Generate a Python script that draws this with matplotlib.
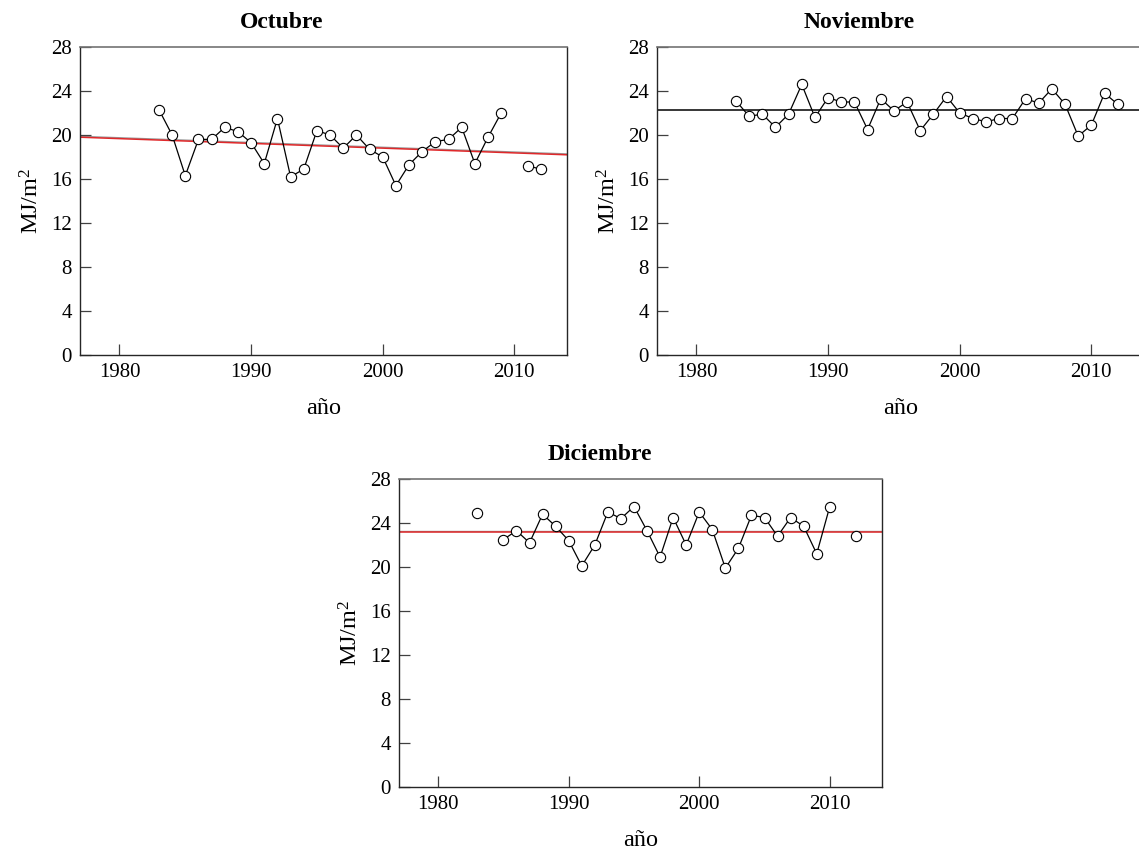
import matplotlib
matplotlib.use('Agg')
import matplotlib.pyplot as plt
import numpy as np

plt.rcParams['font.family'] = ['Liberation Serif', 'DejaVu Serif']
plt.rcParams['mathtext.fontset'] = 'custom'
plt.rcParams['mathtext.rm'] = 'Liberation Serif'
plt.rcParams['mathtext.it'] = 'Liberation Serif:italic'

nan = np.nan
years = list(range(1983, 2013))

# monthly mean irradiation, MJ/m2 (NaN = missing year)
octubre = [22.3, 20.0, 16.3, 19.6, 19.6, 20.7, 20.3, 19.3, 17.4, 21.5,
           16.2, 16.9, 20.4, 20.0, 18.8, 20.0, 18.7, 18.0, 15.4, 17.3,
           18.5, 19.4, 19.6, 20.7, 17.4, 19.8, 22.0, nan, 17.2, 16.9]
noviembre = [23.1, 21.7, 21.9, 20.7, 21.9, 24.6, 21.6, 23.4, 23.0, 23.0,
             20.5, 23.3, 22.2, 23.0, 20.4, 21.9, 23.5, 22.0, 21.5, 21.2,
             21.5, 21.5, 23.3, 22.9, 24.2, 22.8, 19.9, 20.9, 23.8, 22.8]
diciembre = [24.9, nan, 22.5, 23.3, 22.2, 24.8, 23.7, 22.4, 20.1, 22.0,
             25.0, 24.4, 25.5, 23.3, 20.9, 24.5, 22.0, 25.0, 23.4, 19.9,
             21.7, 24.7, 24.5, 22.8, 24.5, 23.7, 21.2, 25.5, nan, 22.8]

# fitted trend lines, evaluated at both ends of the year axis
fit_years = [1977, 2014]
oct_fit = [19.8, 18.2]
oct_fit_prev = [19.88, 18.28]
nov_fit = [22.25, 22.25]
dic_fit = [23.2, 23.2]
dic_fit_prev = [23.28, 23.28]

year_ticks = [1980, 1990, 2000, 2010]
y_ticks = [0, 4, 8, 12, 16, 20, 24, 28]

W, H = 1139, 849
fig = plt.figure(figsize=(W / 100, H / 100), dpi=100)


def panel(left_px, top_px, width_px, title, values, fit, fit_color, fit_prev=None):
    ax = fig.add_axes([left_px / W, 1 - (top_px + 308) / H, width_px / W, 308 / H])
    if fit_prev is not None:
        ax.plot(fit_years, fit_prev, color='0.6', lw=1.0, zorder=1)
    ax.plot(fit_years, fit, color=fit_color, lw=1.1, zorder=2)
    ax.plot(years, values, color='black', lw=0.9, marker='o', ms=7.4,
            mfc='white', mec='black', mew=0.8, zorder=3)
    ax.set_xlim(1977, 2014)
    ax.set_ylim(0, 28)
    ax.set_xticks(year_ticks)
    ax.set_yticks(y_ticks)
    ax.tick_params(direction='in', length=8, width=0.9, labelsize=15,
                   pad=6, color='0.25')
    for side in ['left', 'bottom', 'right']:
        ax.spines[side].set_color('0.15')
        ax.spines[side].set_linewidth(1.0)
    ax.spines['top'].set_color('0.45')
    ax.spines['top'].set_linewidth(1.2)
    ax.set_title(title, fontsize=17, fontweight='bold', x=0.415, pad=14)
    ax.set_xlabel('año', fontsize=17.5, labelpad=11)
    ax.set_ylabel('MJ/m$^2$', fontsize=17.5, labelpad=5)
    return ax


panel(80, 47, 487, 'Octubre', octubre, oct_fit, '#e0282a', oct_fit_prev)
panel(657, 47, 487, 'Noviembre', noviembre, nov_fit, 'black')
panel(399, 479, 483, 'Diciembre', diciembre, dic_fit, '#e0282a', dic_fit_prev)

fig.savefig('out.png', dpi=100)
